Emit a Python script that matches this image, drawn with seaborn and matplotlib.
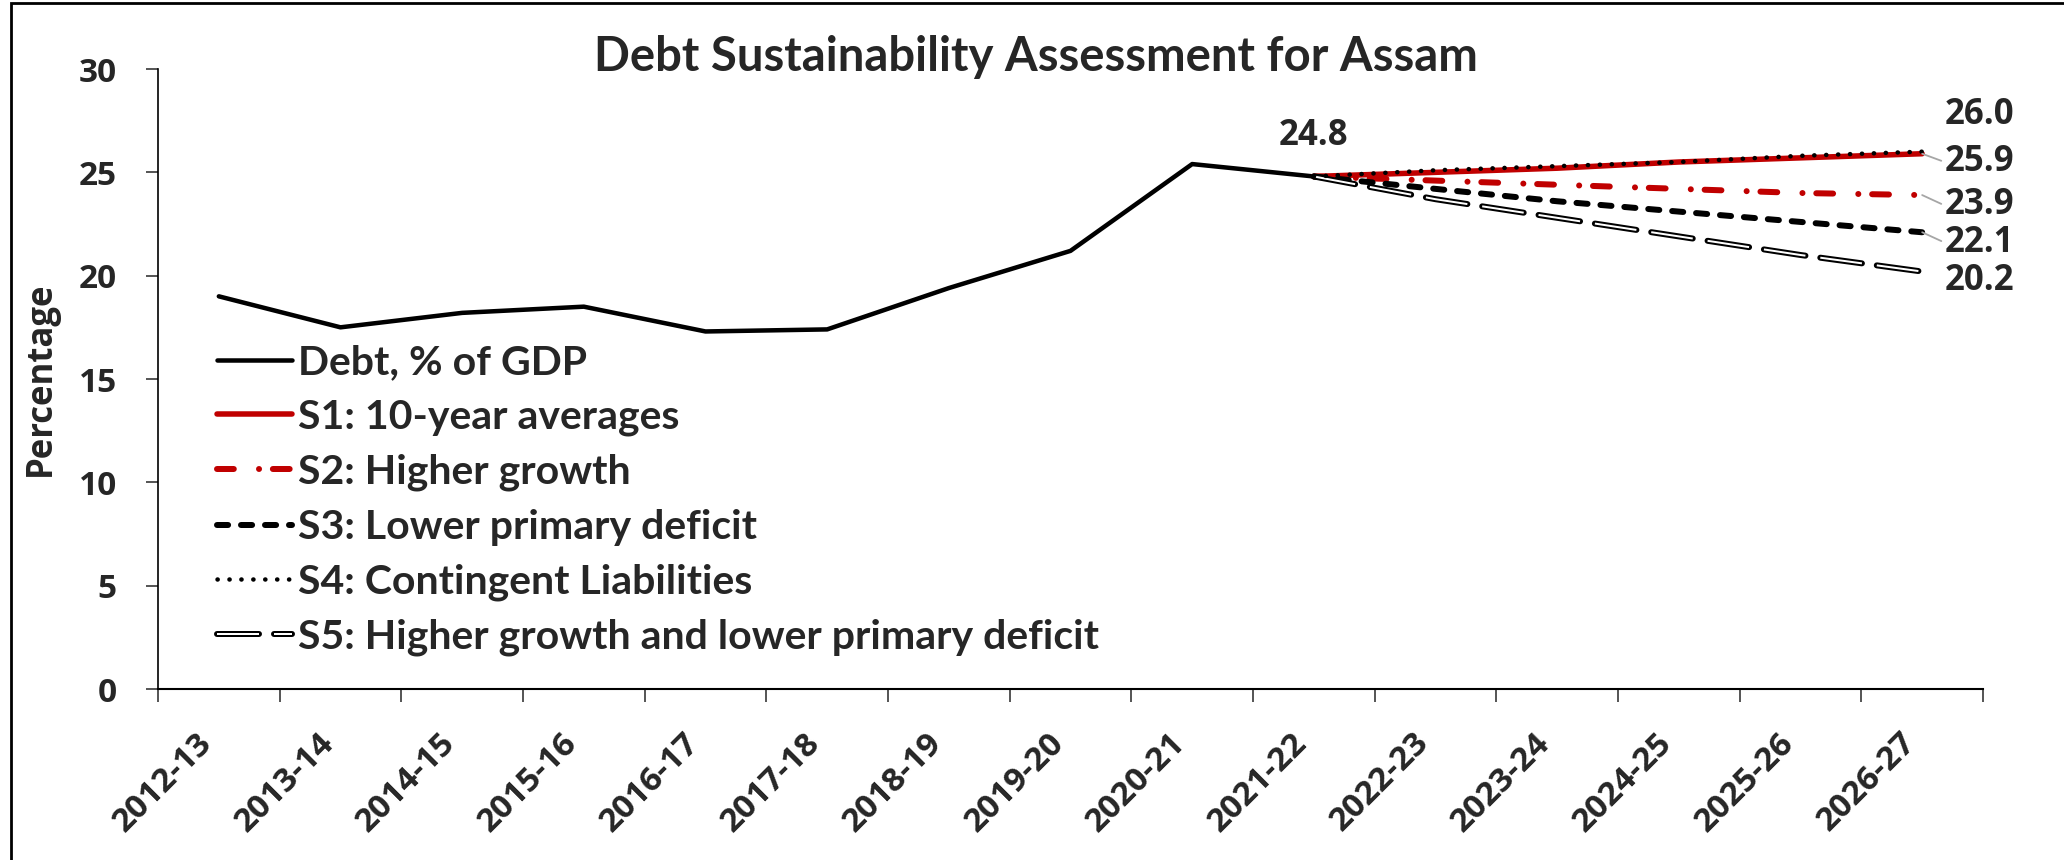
import matplotlib
matplotlib.use('Agg')
import matplotlib.pyplot as plt
import matplotlib.patheffects as pe
from matplotlib.patches import Rectangle
import numpy as np
import pandas as pd
import seaborn as sns

years = ['2012-13', '2013-14', '2014-15', '2015-16', '2016-17', '2017-18', '2018-19',
         '2019-20', '2020-21', '2021-22', '2022-23', '2023-24', '2024-25', '2025-26', '2026-27']
debt = [19.0, 17.5, 18.2, 18.5, 17.3, 17.4, 19.4, 21.2, 25.4, 24.8]
s1 = [24.8, 25.0, 25.2, 25.5, 25.7, 25.9]
s2 = [24.8, 24.6, 24.4, 24.2, 24.0, 23.9]
s3 = [24.8, 24.2, 23.6, 23.1, 22.6, 22.1]
s4 = [24.8, 25.1, 25.3, 25.5, 25.8, 26.0]
s5 = [24.8, 23.7, 22.8, 21.9, 21.0, 20.2]
names = ['Debt, % of GDP', 'S1: 10-year averages', 'S2: Higher growth',
         'S3: Lower primary deficit', 'S4: Contingent Liabilities',
         'S5: Higher growth and lower primary deficit']

RED = '#C00000'
NARROW = ['Lato', 'DejaVu Sans']

sns.set_style('white')
plt.rcParams['font.family'] = ['Open Sans', 'DejaVu Sans']

fig = plt.figure(figsize=(20.64, 8.6), dpi=100)
ax = fig.add_axes([158 / 2064, 1 - 689 / 860, (1983 - 158) / 2064, (689 - 69) / 860])

hist = pd.DataFrame({'pos': np.arange(len(debt)), 'value': debt})
start = len(debt) - 1
proj = pd.DataFrame({'pos': np.arange(start, start + len(s1)),
                     's1': s1, 's2': s2, 's3': s3, 's4': s4, 's5': s5})

px = 0.72  # points per pixel at dpi 100
sns.lineplot(data=hist, x='pos', y='value', ax=ax, color='black', lw=4.5 * px,
             label=names[0])
sns.lineplot(data=proj, x='pos', y='s1', ax=ax, color=RED, lw=5.5 * px, label=names[1])
sns.lineplot(data=proj, x='pos', y='s2', ax=ax, color=RED, lw=6 * px, label=names[2],
             linestyle=(0, (2.8, 4.2, 0.01, 2.3)), dash_capstyle='round')
sns.lineplot(data=proj, x='pos', y='s3', ax=ax, color='black', lw=6 * px, label=names[3],
             linestyle=(0, (1.85, 2.15)), dash_capstyle='round')
sns.lineplot(data=proj, x='pos', y='s5', ax=ax, color='white', lw=2 * px, label=names[5],
             linestyle=(0, (21, 7.5)),
             path_effects=[pe.Stroke(linewidth=6 * px, foreground='black', capstyle='round'),
                           pe.Normal()])
sns.lineplot(data=proj, x='pos', y='s4', ax=ax, color='black', lw=4.5 * px, label=names[4],
             linestyle=(0, (0.05, 2.6)), dash_capstyle='round')

ax.set_xlim(-0.5, len(years) - 0.5)
ax.set_ylim(0, 30)
ax.set_yticks(range(0, 31, 5))
ax.set_xticks(np.arange(-0.5, len(years), 1))
ax.set_xticklabels([])
ax.set_xticks(np.arange(len(years)), minor=True)
ax.set_xticklabels(years, minor=True, rotation=45, ha='right', fontweight='bold', fontsize=24)
for lab in ax.get_yticklabels():
    lab.set_fontweight('bold')
    lab.set_fontsize(24)
ax.tick_params(axis='x', which='major', direction='out', length=9.4, width=1.1, bottom=True)
ax.tick_params(axis='x', which='minor', length=0, pad=27)
ax.tick_params(axis='y', direction='out', length=8.6, width=1.1, left=True, pad=21)
for side in ['top', 'right']:
    ax.spines[side].set_visible(False)
ax.spines['left'].set_linewidth(1.2)
ax.spines['bottom'].set_linewidth(1.5)
ax.spines['left'].set_color('black')
ax.spines['bottom'].set_color('black')
ax.set_xlabel('')
ax.set_ylabel('Percentage', fontsize=25, fontweight='bold', labelpad=14)

# data labels
ax.text(start, 26.75, f'{debt[-1]:.1f}', ha='center', va='center', fontsize=25,
        fontweight='bold')
lab_x = start + len(s1) - 1 + 0.47
label_pos = [(s4, 27.75, False), (s1, 25.5, True), (s2, 23.4, True),
             (s3, 21.6, True), (s5, 19.75, False)]
for series, ly, leader in label_pos:
    if leader:
        ax.annotate(f'{series[-1]:.1f}', xy=(len(years) - 1, series[-1]), xytext=(lab_x, ly),
                    ha='center', va='center', fontsize=25, fontweight='bold',
                    annotation_clip=False,
                    arrowprops=dict(arrowstyle='-', color='#A6A6A6', lw=1.3,
                                    shrinkA=0, shrinkB=0, relpos=(0, 0.5)))
    else:
        ax.text(lab_x, ly, f'{series[-1]:.1f}', ha='center', va='center', fontsize=25,
                fontweight='bold', clip_on=False)

handles, labels = ax.get_legend_handles_labels()
order = [labels.index(n) for n in names]
leg = ax.legend([handles[i] for i in order], [labels[i] for i in order],
                loc='upper left', bbox_to_anchor=(217 / 2064, 1 - 344 / 860),
                bbox_transform=fig.transFigure, frameon=False,
                prop={'family': NARROW, 'weight': 'bold', 'size': 29.5},
                handlelength=1.83, handletextpad=0.15, labelspacing=0.43, borderpad=0,
                borderaxespad=0)

fig.text(1036 / 2064, 1 - 57 / 860, 'Debt Sustainability Assessment for Assam',
         ha='center', va='center', fontsize=34, fontweight='bold', family=NARROW)

fig.patches.append(Rectangle((11 / 2064, -0.1), 1.2, 1.1 - 3 / 860, transform=fig.transFigure,
                             fill=False, edgecolor='black', lw=2.0, figure=fig))

fig.savefig('out.png', dpi=100)
